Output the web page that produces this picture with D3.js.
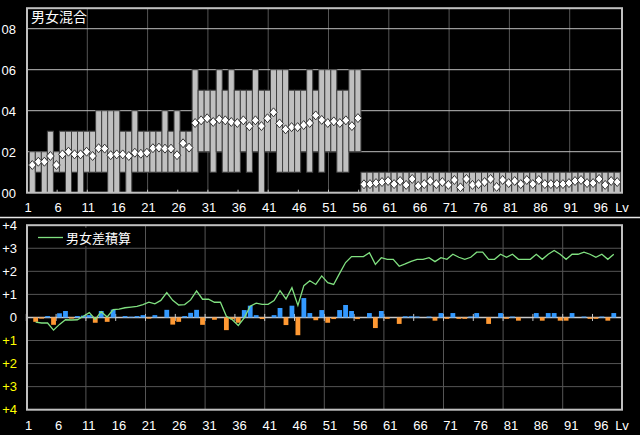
<!DOCTYPE html>
<html><head><meta charset="utf-8">
<script src="https://cdn.jsdelivr.net/npm/d3@7"></script>
<style>html,body{margin:0;padding:0;background:#000;}svg{display:block;}</style>
</head><body>
<script>
// ---- data ----
const levels = d3.range(1, 99);
const rangeMax = [.2,.2,.2,.3,.2,.3,.3,.3,.3,.3,.3,.4,.4,.4,.4,.3,.3,.4,.3,.3,.3,.3,.4,.3,.4,.3,.3,.6,.5,.5,.5,.6,.5,.6,.5,.5,.5,.6,.5,.5,.6,.6,.6,.5,.5,.5,.6,.5,.6,.6,.6,.5,.5,.6,.6,
 .1,.1,.1,.1,.1,.1,.1,.1,.1,.1,.1,.1,.1,.1,.1,.1,.1,.1,.1,.1,.1,.1,.1,.1,.1,.1,.1,.1,.1,.1,.1,.1,.1,.1,.1,.1,.1,.1,.1,.1,.1,.1,.1];
const rangeMin = [0,.1,0,0,.1,.1,0,.1,0,.1,.1,.1,.1,0,0,.1,0,.1,.1,.1,.1,.1,.1,.1,.1,.1,.1,.1,.2,.2,.1,.2,.1,.1,.1,.2,.1,.2,0,.2,.2,.1,.1,.1,.1,.2,.1,.2,.1,.2,.2,.1,.1,.2,.2,
 0,0,0,0,0,0,0,0,0,0,0,0,0,0,0,0,0,0,0,0,0,0,0,0,0,0,0,0,0,0,0,0,0,0,0,0,0,0,0,0,0,0,0];
const average = [.135,.151,.151,.179,.135,.187,.2,.187,.187,.2,.179,.217,.215,.183,.187,.187,.179,.195,.19,.195,.217,.22,.215,.215,.183,.241,.22,
 .34,.353,.363,.345,.358,.353,.345,.34,.353,.324,.353,.325,.363,.392,.338,.309,.32,.32,.33,.34,.377,.355,.34,.348,.34,.353,.325,.364,
 .041,.042,.047,.052,.057,.042,.057,.038,.067,.033,.042,.057,.042,.052,.038,.062,.026,.067,.038,.042,.052,.067,.028,.062,.047,.057,.042,.062,.042,.062,.042,.042,.042,.042,.047,.057,.062,.047,.047,.067,.038,.057,.052];
const diff = [-0.19,-0.05,0.06,-0.32,0.18,0.28,-0.05,0.06,0.08,0.1,-0.23,0.28,-0.19,0.34,0,0.06,0.03,0.06,0.1,-0.05,0.1,0,0.33,-0.31,-0.19,0.06,0.2,0.33,-0.32,0,
 -0.1,0,-0.55,-0.08,-0.23,0.32,0.51,0.1,-0.07,0,0.1,0.41,-0.33,0.51,-0.77,0.84,0.19,-0.12,0.32,-0.23,-0.07,0.32,0.54,0.28,-0.07,0,0.19,-0.46,0.28,-0.06,
 0,-0.28,0.05,0.05,0.04,0,0.04,-0.14,0.19,-0.06,0.19,-0.06,-0.06,0.04,0.19,0,-0.28,0,0.19,-0.06,0.04,-0.14,0,0,0.19,-0.14,0.19,0.19,-0.14,-0.14,
 0.19,0,0.04,-0.06,-0.06,0.04,-0.14,0.19];
const cumulative = [-0.2,-0.24,-0.24,-0.55,-0.3,-0.1,-0.11,-0.1,0.05,0.21,-0.08,0.25,0.02,0.34,0.36,0.42,0.45,0.48,0.56,0.66,0.59,0.74,1.08,0.74,0.54,0.56,0.76,1.15,0.79,0.79,
 0.66,0.66,0.05,-0.1,-0.35,-0.02,0.49,0.62,0.57,0.57,0.73,1.16,0.8,1.29,0.52,1.38,1.59,1.43,1.8,1.51,1.43,1.91,2.38,2.64,2.64,2.64,2.81,2.3,2.59,2.52,
 2.52,2.22,2.32,2.43,2.52,2.52,2.59,2.42,2.59,2.52,2.74,2.61,2.52,2.61,2.83,2.83,2.52,2.52,2.74,2.61,2.74,2.52,2.52,2.52,2.74,2.52,2.74,2.9,2.74,2.52,
 2.74,2.74,2.83,2.74,2.61,2.74,2.52,2.74];
const xTickLevels = d3.range(1, 97, 5);       // 1,6,...,96
const gridLevels = d3.range(11, 92, 10);       // 11,21,...,91
const topYTicks = [0, 0.2, 0.4, 0.6, 0.8];
const topYLabels = ["00","02","04","06","08"];
const botYTicks = [4,3,2,1,0,-1,-2,-3,-4];
const botYLabels = ["+4","+3","+2","+1","0","+1","+2","+3","+4"];
const topTitle = "男女混合";
const legendLabel = "男女差積算";

// ---- drawing ----
const W = 640, H = 435;
const svg = d3.select("body").append("svg").attr("width", W).attr("height", H)
  .style("font-family", "'Liberation Sans', Arial, sans-serif");
svg.append("rect").attr("width", W).attr("height", H).attr("fill", "#000");

const L = 27, R = 622;
const xTop = d3.scaleLinear().domain([1, 98]).range([27, 27 + 97 * 6.03]);
const yTop = d3.scaleLinear().domain([0, 0.9]).range([192.7, 8.2]);
const xBot = d3.scaleLinear().domain([1, 98]).range([26.3, 26.3 + 97 * 5.96]);
const yBot = d3.scaleLinear().domain([-4, 4]).range([409.7, 225.2]);

const gTop = svg.append("g");
gTop.selectAll(".vg").data(gridLevels).join("line")
  .attr("x1", d => xTop(d)).attr("x2", d => xTop(d))
  .attr("y1", yTop(0.9)).attr("y2", yTop(0)).attr("stroke", "#555").attr("stroke-width", 1);
gTop.selectAll(".hg").data(topYTicks.slice(1)).join("line")
  .attr("x1", L).attr("x2", R).attr("y1", d => yTop(d)).attr("y2", d => yTop(d))
  .attr("stroke", "#bdbdbd").attr("stroke-width", 1);
gTop.selectAll(".rb").data(levels).join("rect")
  .attr("x", d => xTop(d + 0.38)).attr("width", d => xTop(d + 1.38) - xTop(d + 0.38))
  .attr("y", (d, i) => yTop(rangeMax[i])).attr("height", (d, i) => yTop(rangeMin[i]) - yTop(rangeMax[i]))
  .attr("fill", "#c0c0c0").attr("stroke", "#404040").attr("stroke-width", 1);
gTop.selectAll(".dm").data(levels).join("path")
  .attr("transform", (d, i) => `translate(${xTop(d + 0.88)},${yTop(average[i])})`)
  .attr("d", "M0,-4.5L3.8,0L0,4.5L-3.8,0Z")
  .attr("fill", "#fff").attr("stroke", "#333").attr("stroke-width", 1);
gTop.append("rect").attr("x", L).attr("y", yTop(0.9)).attr("width", R - L).attr("height", yTop(0) - yTop(0.9))
  .attr("fill", "none").attr("stroke", "#c0c0c0").attr("stroke-width", 2);
gTop.selectAll(".tk").data(xTickLevels).join("line")
  .attr("x1", d => xTop(d)).attr("x2", d => xTop(d))
  .attr("y1", yTop(0) - 3).attr("y2", yTop(0)).attr("stroke", "#c0c0c0");
gTop.selectAll(".yl").data(topYTicks).join("text")
  .attr("x", 16).attr("y", d => yTop(d) + 5).attr("text-anchor", "end")
  .attr("fill", "#fff").attr("font-size", 13).text((d, i) => topYLabels[i]);
gTop.selectAll(".xl").data(xTickLevels).join("text")
  .attr("x", d => xTop(d) + 1).attr("y", 212).attr("text-anchor", "middle")
  .attr("fill", "#fff").attr("font-size", 13).text(d => d);
gTop.append("text").attr("x", 622).attr("y", 212).attr("text-anchor", "middle")
  .attr("fill", "#fff").attr("font-size", 13).text("Lv");
gTop.append("text").attr("x", 31).attr("y", 22).attr("fill", "#fff")
  .attr("font-family", "'Noto Sans CJK JP', sans-serif").attr("font-size", 14).text(topTitle);

svg.append("line").attr("x1", 0).attr("x2", W).attr("y1", 217.5).attr("y2", 217.5)
  .attr("stroke", "#e8e8e8").attr("stroke-width", 1.5);

const gBot = svg.append("g");
gBot.selectAll(".vg").data(gridLevels).join("line")
  .attr("x1", d => xBot(d)).attr("x2", d => xBot(d))
  .attr("y1", yBot(4)).attr("y2", yBot(-4)).attr("stroke", "#555");
gBot.selectAll(".hg").data(botYTicks.filter(v => v !== 0 && Math.abs(v) !== 4)).join("line")
  .attr("x1", L).attr("x2", R).attr("y1", d => yBot(d)).attr("y2", d => yBot(d)).attr("stroke", "#555");
gBot.append("line").attr("x1", L).attr("x2", R).attr("y1", yBot(0)).attr("y2", yBot(0))
  .attr("stroke", "#c8c8c8").attr("stroke-width", 1.5);
gBot.selectAll(".tk").data(xTickLevels).join("line")
  .attr("x1", d => xBot(d)).attr("x2", d => xBot(d))
  .attr("y1", yBot(0) - 3.5).attr("y2", yBot(0) + 3.5).attr("stroke", "#c8c8c8");
gBot.selectAll(".db").data(levels).join("rect")
  .attr("x", d => xBot(d + 1.57) - 2.4).attr("width", 4.8)
  .attr("y", (d, i) => yBot(Math.max(0, diff[i])))
  .attr("height", (d, i) => Math.abs(yBot(diff[i]) - yBot(0)))
  .attr("fill", (d, i) => diff[i] >= 0 ? "#3399ff" : "#ff9933");
gBot.append("path").datum(levels)
  .attr("d", d3.line().x(d => xBot(d + 1.57)).y((d, i) => yBot(cumulative[i])))
  .attr("fill", "none").attr("stroke", "#80e080").attr("stroke-width", 1.3);
gBot.append("rect").attr("x", L).attr("y", yBot(4)).attr("width", R - L).attr("height", yBot(-4) - yBot(4))
  .attr("fill", "none").attr("stroke", "#c0c0c0").attr("stroke-width", 2);
gBot.selectAll(".yl").data(botYTicks).join("text")
  .attr("x", 17).attr("y", d => yBot(d) + 4.5).attr("text-anchor", "end")
  .attr("fill", d => d < 0 ? "#ffff00" : "#fff").attr("font-size", 13).text((d, i) => botYLabels[i]);
gBot.selectAll(".xl").data(xTickLevels).join("text")
  .attr("x", d => xTop(d) + 1.5).attr("y", 429.5).attr("text-anchor", "middle")
  .attr("fill", "#fff").attr("font-size", 13).text(d => d);
gBot.append("text").attr("x", 622).attr("y", 429.5).attr("text-anchor", "middle")
  .attr("fill", "#fff").attr("font-size", 13).text("Lv");
// legend with black backing
gBot.append("rect").attr("x", 34).attr("y", 228).attr("width", 100).attr("height", 18).attr("fill", "#000");
gBot.append("line").attr("x1", 38).attr("x2", 63).attr("y1", 237.5).attr("y2", 237.5)
  .attr("stroke", "#80e080").attr("stroke-width", 1.3);
gBot.append("text").attr("x", 66).attr("y", 243).attr("fill", "#fff")
  .attr("font-family", "'Noto Sans CJK JP', sans-serif").attr("font-size", 13).text(legendLabel);
</script>
</body></html>
